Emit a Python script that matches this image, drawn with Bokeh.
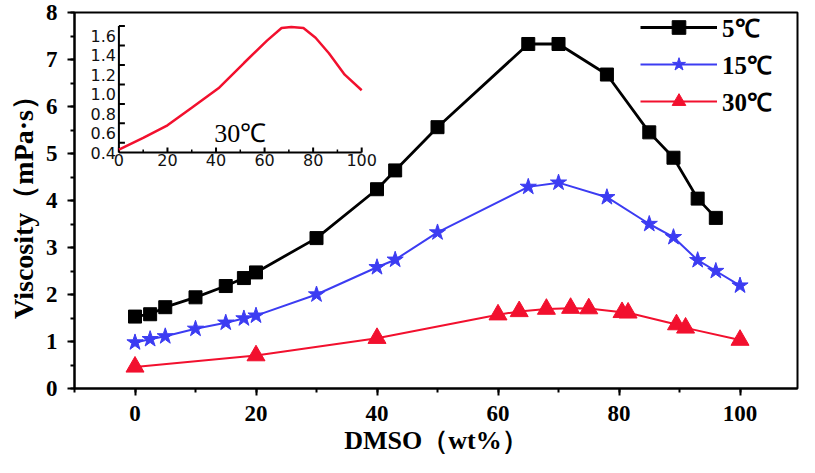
import math
from bokeh.plotting import figure
from bokeh.models import Range1d, SingleIntervalTicker, Legend, LegendItem, Title
from bokeh.core.properties import value
from bokeh.embed import file_html
from bokeh.resources import INLINE

# ---------------- data ----------------
dmso_5 = [0, 2.5, 5, 10, 15, 18, 20, 30, 40, 43, 50, 65, 70, 78, 85, 89, 93, 96]
visc_5 = [1.53, 1.58, 1.73, 1.94, 2.18, 2.35, 2.47, 3.20, 4.24, 4.64, 5.56, 7.33,
          7.33, 6.68, 5.45, 4.91, 4.04, 3.63]

dmso_15 = [0, 2.5, 5, 10, 15, 18, 20, 30, 40, 43, 50, 65, 70, 78, 85, 89, 93, 96, 100]
visc_15 = [0.98, 1.05, 1.11, 1.27, 1.40, 1.49, 1.55, 2.00, 2.58, 2.74, 3.32, 4.29,
           4.38, 4.07, 3.50, 3.22, 2.73, 2.50, 2.19]

dmso_30 = [0, 20, 40, 60, 63.5, 68, 72, 75, 80.5, 81.5, 89.5, 91, 100]
visc_30 = [0.46, 0.70, 1.07, 1.57, 1.64, 1.69, 1.71, 1.70, 1.62, 1.61, 1.36, 1.29, 1.03]

series_labels = ["5℃", "15℃", "30℃"]

# inset (30 ℃ curve)
inset_dmso = [0, 10, 20, 30, 41, 51.5, 61, 67, 71, 76, 81, 86.5, 93, 100]
inset_visc = [0.43, 0.55, 0.68, 0.86, 1.06, 1.32, 1.55, 1.68, 1.69, 1.68, 1.58,
              1.42, 1.20, 1.04]
inset_x_ticks = [0, 20, 40, 60, 80, 100]
inset_x_minor = [10, 30, 50, 70, 90]
inset_x_labels = ["0", "20", "40", "60", "80", "100"]
inset_y_label_vals = [0.4, 0.6, 0.8, 1.0, 1.2, 1.4, 1.6]
inset_y_labels = ["0.4", "0.6", "0.8", "1.0", "1.2", "1.4", "1.6"]
inset_y_ticks = [0.5, 0.7, 0.9, 1.1, 1.3, 1.5, 1.7]
inset_title = ["30℃"]
inset_title_pos = ([50], [0.60])

x_title = "DMSO（wt%）"
y_title = "Viscosity（mPa·s）"

# ---------------- styling ----------------
BLACK = "#000000"
BLUE = "#3c3cf2"
RED = "#f2102e"
SERIF = "Liberation Serif"

p = figure(width=799, height=457, output_backend="svg", toolbar_location=None,
           x_range=Range1d(-10, 109.5), y_range=Range1d(0, 8),
           min_border_left=74, min_border_right=2, min_border_top=12,
           min_border_bottom=62)
p.xgrid.visible = False
p.ygrid.visible = False
p.outline_line_color = BLACK
p.outline_line_width = 2
p.outline_line_alpha = 1

p.xaxis.ticker = SingleIntervalTicker(interval=20, num_minor_ticks=2)
p.yaxis.ticker = SingleIntervalTicker(interval=1, num_minor_ticks=2)
for ax in (p.xaxis, p.yaxis):
    ax.axis_line_width = 2
    ax.axis_line_color = BLACK
    ax.major_tick_line_width = 2
    ax.minor_tick_line_width = 2
    ax.major_tick_line_color = BLACK
    ax.minor_tick_line_color = BLACK
    ax.major_tick_in = 0
    ax.major_tick_out = 7
    ax.minor_tick_in = 0
    ax.minor_tick_out = 4
    ax.major_label_text_font = SERIF
    ax.major_label_text_font_style = "bold"
    ax.major_label_text_font_size = "23px"
    ax.major_label_text_color = BLACK
    ax.axis_label_text_font = SERIF
    ax.axis_label_text_font_style = "bold"
    ax.axis_label_text_color = BLACK

p.xaxis.axis_label = x_title
p.xaxis.axis_label_text_font_size = "26px"
p.xaxis.major_label_standoff = 10
p.xaxis.axis_label_standoff = 2
p.yaxis.major_label_standoff = 10

# y title as a side title, shifted a little below the frame centre (as in the reference)
ytitle = Title(text=y_title, align="center", offset=-38, standoff=8,
               text_font=SERIF, text_font_style="bold", text_font_size="28px",
               text_color=BLACK)
p.add_layout(ytitle, "left")

# ---------------- main series ----------------
l5 = p.line(dmso_5, visc_5, line_color=BLACK, line_width=2.8)
s5 = p.scatter(dmso_5, visc_5, marker="square", size=13, fill_color=BLACK, line_color=BLACK)
l15 = p.line(dmso_15, visc_15, line_color=BLUE, line_width=2)
s15 = p.scatter(dmso_15, visc_15, marker="star", size=17, fill_color=BLUE, line_color=BLUE)
l30 = p.line(dmso_30, visc_30, line_color=RED, line_width=2)
s30 = p.scatter(dmso_30, visc_30, marker="triangle", size=18, fill_color=RED, line_color=RED)

legend = Legend(items=[
    LegendItem(label=series_labels[0], renderers=[l5, s5]),
    LegendItem(label=series_labels[1], renderers=[l15, s15]),
    LegendItem(label=series_labels[2], renderers=[l30, s30]),
], location=(564, 268))
legend.border_line_alpha = 0
legend.background_fill_alpha = 0
legend.label_text_font = SERIF
legend.label_text_font_style = "bold"
legend.label_text_font_size = "25px"
legend.label_text_color = BLACK
legend.glyph_width = 77
legend.glyph_height = 34
legend.label_height = 34
legend.label_standoff = 5
legend.spacing = 3
legend.padding = 2
legend.margin = 0
p.add_layout(legend)

# ---------------- inset (drawn in its own ranges) ----------------
p.extra_x_ranges = {"ix": Range1d(-18.29, 279.5)}
p.extra_y_ranges = {"iy": Range1d(-2.024, 1.839)}
IR = dict(x_range_name="ix", y_range_name="iy")

x_lo, x_hi = inset_x_ticks[0], inset_x_ticks[-1]
y_lo, y_hi = inset_y_label_vals[0], inset_y_ticks[-1]
p.segment(x0=[x_lo, x_lo], y0=[y_lo, y_lo], x1=[x_hi, x_lo], y1=[y_lo, y_hi],
          line_color=BLACK, line_width=2, **IR)
p.ray(x=inset_x_ticks, y=[y_lo] * len(inset_x_ticks), length=5, length_units="screen",
      angle=math.pi / 2, line_color=BLACK, line_width=2, **IR)
p.ray(x=inset_x_minor, y=[y_lo] * len(inset_x_minor), length=3, length_units="screen",
      angle=math.pi / 2, line_color=BLACK, line_width=1.5, **IR)
p.ray(x=[x_lo] * len(inset_y_ticks), y=inset_y_ticks, length=6, length_units="screen",
      angle=0, line_color=BLACK, line_width=2, **IR)

p.text(x=inset_x_ticks, y=[y_lo] * len(inset_x_ticks), text=inset_x_labels,
       text_align="center", text_baseline="top", y_offset=1,
       text_font=value("DejaVu Sans"), text_font_size="16px", text_color="#111111", **IR)
p.text(x=[x_lo] * len(inset_y_label_vals), y=inset_y_label_vals, text=inset_y_labels,
       text_align="right", text_baseline="middle", x_offset=-3,
       text_font=value("DejaVu Sans"), text_font_size="16px", text_color="#111111", **IR)

p.line(inset_dmso, inset_visc, line_color=RED, line_width=2.5, **IR)
p.text(x=inset_title_pos[0], y=inset_title_pos[1], text=inset_title,
       text_align="center", text_baseline="middle",
       text_font=value(SERIF), text_font_size="26px", text_color=BLACK, **IR)

open("out.html", "w").write(file_html(p, INLINE))
